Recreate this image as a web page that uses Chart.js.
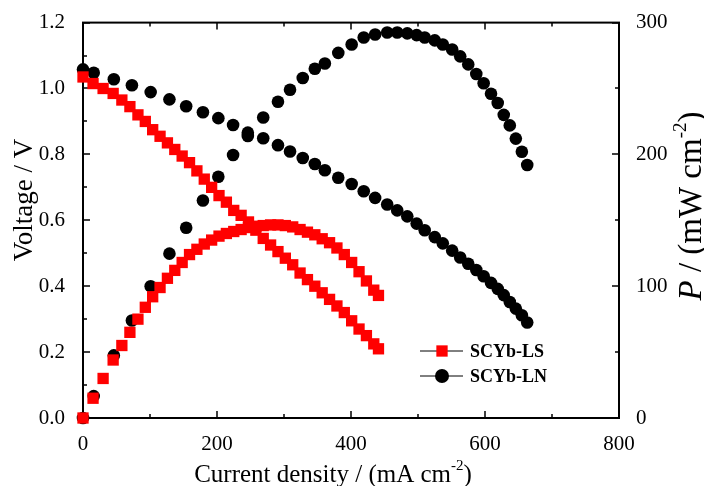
<!DOCTYPE html>
<html>
<head>
<meta charset="utf-8">
<script src="https://cdn.jsdelivr.net/npm/chart.js@4.4.1/dist/chart.umd.min.js"></script>
<style>
  html, body { margin: 0; padding: 0; background: #fff; }
  #wrap { width: 704px; height: 486px; }
</style>
</head>
<body>
<div id="wrap"><canvas id="fcChart"></canvas></div>
<script>
// I-V-P data (current in mA cm-2, voltage in V, power in mW cm-2)
const lsCurrent = [0, 15, 30, 45, 58, 70, 82, 93, 104, 115, 126, 137, 148, 159, 170, 181, 192, 203, 214, 225,
  236, 247, 258, 269, 280, 291, 302, 313, 324, 335, 346, 357, 368, 379, 390, 401, 412, 423, 434, 441];
const lsVoltage = [1.035, 1.015, 1.00, 0.985, 0.965, 0.945, 0.92, 0.90, 0.875, 0.855, 0.835, 0.815, 0.795, 0.775, 0.75, 0.725, 0.70, 0.675, 0.655, 0.63,
  0.615, 0.595, 0.57, 0.545, 0.525, 0.505, 0.485, 0.465, 0.44, 0.42, 0.40, 0.38, 0.36, 0.34, 0.32, 0.295, 0.27, 0.25, 0.225, 0.21];
const lsPower = [0, 15, 30, 44, 55, 65, 75, 84, 92, 99, 106, 112, 118, 124, 128, 132, 135, 138, 140, 141.5,
  143, 144.5, 145.5, 146, 146.5, 146.5, 146, 145, 143, 141, 139, 136, 133, 129, 124, 118, 111, 104, 97, 93];

const lnCurrent = [0, 16, 46, 73, 101, 129, 154, 179, 202, 224, 246, 269, 291, 309, 328, 346, 361, 381, 401, 419,
  436, 454, 469, 484, 498, 510, 525, 537, 551, 563, 575, 587, 598, 609, 619, 628, 637, 646, 655, 663];
const lnVoltage = [1.058, 1.048, 1.028, 1.010, 0.989, 0.967, 0.946, 0.928, 0.910, 0.889, 0.866, 0.849, 0.828, 0.809, 0.789, 0.771, 0.752, 0.729, 0.710, 0.688,
  0.668, 0.648, 0.630, 0.612, 0.590, 0.570, 0.549, 0.530, 0.508, 0.487, 0.468, 0.449, 0.430, 0.410, 0.392, 0.373, 0.352, 0.332, 0.312, 0.290];
const lnPower = [0, 16.6, 47.5, 74, 100, 124.7, 144.4, 165, 183, 199.5, 214, 228, 240, 249, 258, 265, 269, 277, 283.4, 288.7,
  291, 292.5, 292.5, 291.8, 290.5, 288.7, 286.5, 283.4, 279.6, 274.4, 268.3, 261, 254, 246, 239, 230, 222, 212, 202, 192];

const seriesNames = ['SCYb-LS', 'SCYb-LN'];
const xTicks = [0, 200, 400, 600, 800];
const voltTicks = [0, 0.2, 0.4, 0.6, 0.8, 1.0, 1.2];
const powerTicks = [0, 100, 200, 300];

const SERIF = '"Liberation Serif", "Times New Roman", serif';
const RED = '#ff0000';
const BLACK = '#000000';

const toPoints = (xs, ys) => xs.map((x, i) => ({ x: x, y: ys[i] }));

// draws a run of text pieces (main text + raised superscript) starting at x
function drawRun(ctx, parts, x) {
    parts.forEach(p => { ctx.font = p.f; p.w = ctx.measureText(p.t).width; });
    parts.forEach(p => { ctx.font = p.f; ctx.fillText(p.t, x, p.dy); x += p.w; });
}
function runWidth(ctx, parts) {
    let w = 0;
    parts.forEach(p => { ctx.font = p.f; w += ctx.measureText(p.t).width; });
    return w;
}

/**
 * Frame, inward tick marks, axis titles and the inset legend
 */
const framePlugin = {
    id: 'frame',
    beforeDatasetsDraw(chart) {
        const { ctx, chartArea: a, scales } = chart;
        ctx.save();
        ctx.strokeStyle = '#000';
        ctx.lineWidth = 2;
        ctx.strokeRect(a.left, a.top, a.right - a.left, a.bottom - a.top);

        ctx.lineWidth = 1.5;
        ctx.beginPath();
        // x ticks, bottom and top
        for (let v = 0; v <= 800; v += 100) {
            const px = Math.round(scales.x.getPixelForValue(v));
            const len = v % 200 === 0 ? 7 : 4;
            ctx.moveTo(px, a.bottom); ctx.lineTo(px, a.bottom - len);
            ctx.moveTo(px, a.top); ctx.lineTo(px, a.top + len);
        }
        // left voltage ticks
        for (let i = 0; i <= 12; i++) {
            const py = Math.round(scales.y.getPixelForValue(i / 10));
            const len = i % 2 === 0 ? 7 : 4;
            ctx.moveTo(a.left, py); ctx.lineTo(a.left + len, py);
        }
        // right power ticks
        for (let v = 0; v <= 300; v += 50) {
            const py = Math.round(scales.yP.getPixelForValue(v));
            const len = v % 100 === 0 ? 7 : 4;
            ctx.moveTo(a.right, py); ctx.lineTo(a.right - len, py);
        }
        ctx.stroke();
        ctx.restore();
    },
    afterDraw(chart) {
        const { ctx } = chart;
        ctx.save();
        ctx.fillStyle = '#000';
        ctx.textBaseline = 'alphabetic';
        ctx.textAlign = 'left';

        // x title
        const xParts = [
            { t: 'Current density / (mA cm', f: '25px ' + SERIF, dy: 0 },
            { t: '-2', f: '15px ' + SERIF, dy: -12 },
            { t: ')', f: '25px ' + SERIF, dy: 0 }
        ];
        ctx.save();
        ctx.translate(0, 482);
        drawRun(ctx, xParts, 333 - runWidth(ctx, xParts) / 2);
        ctx.restore();

        // left title
        ctx.save();
        ctx.translate(32, 200);
        ctx.rotate(-Math.PI / 2);
        ctx.textAlign = 'center';
        ctx.font = '27px ' + SERIF;
        ctx.fillText('Voltage / V', 0, 0);
        ctx.restore();

        // right title: P / (mW cm-2)
        const pParts = [
            { t: 'P', f: 'italic 33px ' + SERIF, dy: 0 },
            { t: ' / (mW cm', f: '33px ' + SERIF, dy: 0 },
            { t: '-2', f: '19px ' + SERIF, dy: -15 },
            { t: ')', f: '33px ' + SERIF, dy: 0 }
        ];
        ctx.save();
        ctx.translate(701, 206);
        ctx.rotate(-Math.PI / 2);
        drawRun(ctx, pParts, -runWidth(ctx, pParts) / 2);
        ctx.restore();

        // legend
        const legendRows = [
            { name: seriesNames[0], style: 'rect', color: RED, y: 351 },
            { name: seriesNames[1], style: 'circle', color: BLACK, y: 376 }
        ];
        legendRows.forEach(r => {
            ctx.strokeStyle = '#000';
            ctx.lineWidth = 1;
            ctx.beginPath();
            ctx.moveTo(420, r.y); ctx.lineTo(463, r.y);
            ctx.stroke();
            ctx.fillStyle = r.color;
            ctx.strokeStyle = r.color;
            Chart.helpers.drawPoint(ctx, { pointStyle: r.style, radius: r.style === 'rect' ? 8 : 7, borderWidth: 0 }, 442, r.y);
            ctx.fillStyle = '#000';
            ctx.font = 'bold 18px ' + SERIF;
            ctx.textAlign = 'left';
            ctx.textBaseline = 'middle';
            ctx.fillText(r.name, 470, r.y + 1);
        });
        ctx.restore();
    }
};

const tickFont = { family: SERIF, size: 21 };

new Chart(document.getElementById('fcChart'), {
    type: 'scatter',
    data: {
        datasets: [
            { label: seriesNames[0] + ' V', data: toPoints(lsCurrent, lsVoltage), yAxisID: 'y',
              pointStyle: 'rect', pointRadius: 8, backgroundColor: RED, borderColor: RED, borderWidth: 0, clip: false },
            { label: seriesNames[0] + ' P', data: toPoints(lsCurrent, lsPower), yAxisID: 'yP',
              pointStyle: 'rect', pointRadius: 8, backgroundColor: RED, borderColor: RED, borderWidth: 0, clip: false },
            { label: seriesNames[1] + ' V', data: toPoints(lnCurrent, lnVoltage), yAxisID: 'y',
              pointStyle: 'circle', pointRadius: 6.3, backgroundColor: BLACK, borderColor: BLACK, borderWidth: 0, clip: false },
            { label: seriesNames[1] + ' P', data: toPoints(lnCurrent, lnPower), yAxisID: 'yP',
              pointStyle: 'circle', pointRadius: 6.3, backgroundColor: BLACK, borderColor: BLACK, borderWidth: 0, clip: false }
        ]
    },
    options: {
        responsive: true,
        maintainAspectRatio: false,
        animation: false,
        layout: { padding: { top: 21, left: 0, right: 0, bottom: 0 } },
        plugins: { legend: { display: false }, tooltip: { enabled: false } },
        scales: {
            x: {
                type: 'linear', min: 0, max: 800,
                grid: { display: false }, border: { display: false },
                afterBuildTicks: s => { s.ticks = xTicks.map(v => ({ value: v })); },
                afterFit: s => { s.height = 68; },
                ticks: { color: '#000', font: tickFont, padding: 6, maxRotation: 0 }
            },
            y: {
                type: 'linear', position: 'left', min: 0, max: 1.2,
                grid: { display: false }, border: { display: false },
                afterBuildTicks: s => { s.ticks = voltTicks.map(v => ({ value: v })); },
                afterFit: s => { s.width = 83; },
                ticks: { color: '#000', font: tickFont, padding: 10, callback: v => v.toFixed(1) }
            },
            yP: {
                type: 'linear', position: 'right', min: 0, max: 300,
                grid: { display: false }, border: { display: false },
                afterBuildTicks: s => { s.ticks = powerTicks.map(v => ({ value: v })); },
                afterFit: s => { s.width = 85; },
                ticks: { color: '#000', font: tickFont, padding: 9, callback: v => String(v) }
            }
        }
    },
    plugins: [framePlugin]
});
</script>
</body>
</html>
